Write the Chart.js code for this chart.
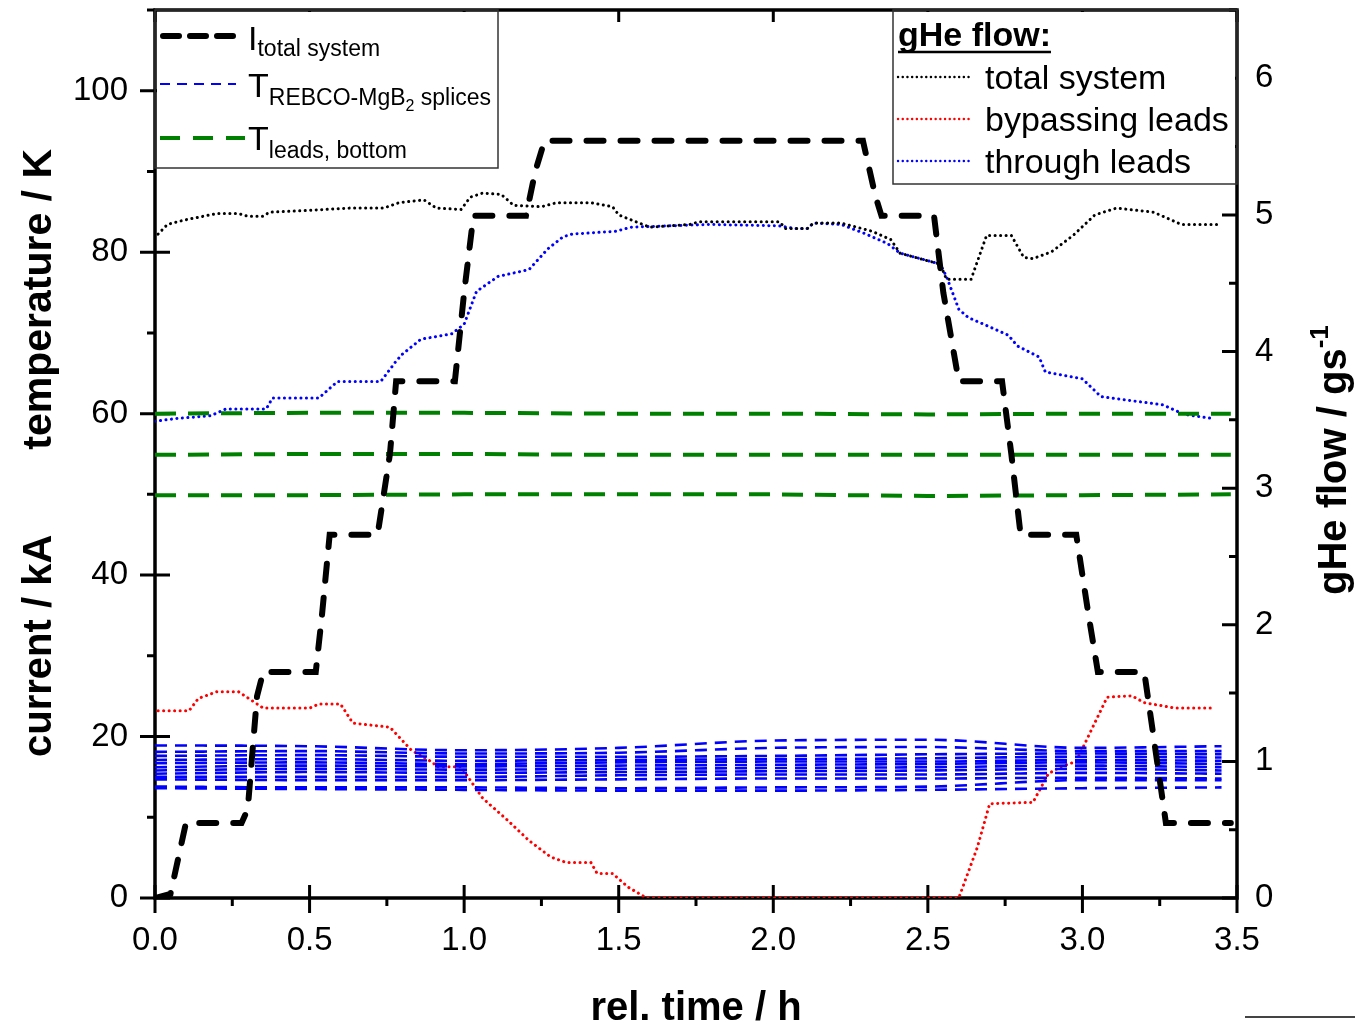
<!DOCTYPE html>
<html>
<head>
<meta charset="utf-8">
<script src="https://cdn.jsdelivr.net/npm/chart.js@4.4.1/dist/chart.umd.min.js"></script>
<style>
  html, body { margin: 0; padding: 0; background: #fff; }
  #wrap { width: 1355px; height: 1022px; }
</style>
</head>
<body>
<div id="wrap"><canvas id="chart" width="1355" height="1022"></canvas></div>
<script>
// ======================================
// Data
// ======================================

const xTicks = [0, 0.5, 1.0, 1.5, 2.0, 2.5, 3.0, 3.5];
const leftTicks = [0, 20, 40, 60, 80, 100];
const rightTicks = [0, 1, 2, 3, 4, 5, 6];

// total current, kA
const currentTime = [0, 0.05, 0.07, 0.1, 0.28, 0.3, 0.33, 0.35, 0.52, 0.54, 0.565, 0.72, 0.76, 0.78, 0.97, 1.0, 1.03, 1.2, 1.23, 1.26, 2.29, 2.33, 2.35, 2.52, 2.55, 2.6, 2.74, 2.77, 2.8, 2.98, 3.02, 3.05, 3.2, 3.23, 3.27, 3.48];
const currentKA = [0, 0.5, 4, 9.3, 9.3, 11, 25, 28, 28, 35, 45, 45, 55, 64, 64, 75, 84.5, 84.5, 90, 93.8, 93.8, 87, 84.5, 84.5, 75, 64, 64, 55, 45, 45, 35, 28, 28, 20, 9.3, 9.3];

// splice temperatures, K
const spliceTime = [0, 0.5, 1.0, 1.5, 2.0, 2.5, 3.0, 3.45];
const spliceTemps = [
  [18.9, 18.8, 18.3, 18.6, 19.5, 19.6, 18.6, 18.8],
  [18.1, 18.2, 17.9, 18.0, 18.6, 18.7, 18.2, 18.2],
  [17.6, 17.7, 17.5, 17.5, 17.6, 17.8, 17.9, 17.8],
  [17.1, 17.2, 17.0, 17.1, 17.2, 17.3, 17.5, 17.4],
  [16.7, 16.8, 16.6, 16.8, 16.9, 16.9, 17.1, 17.0],
  [16.2, 16.4, 16.3, 16.4, 16.5, 16.6, 16.8, 16.6],
  [15.8, 16.0, 15.9, 16.0, 16.1, 16.2, 16.4, 16.2],
  [15.4, 15.6, 15.5, 15.6, 15.7, 15.8, 16.0, 15.8],
  [15.0, 15.0, 15.0, 15.2, 15.3, 15.3, 15.5, 15.4],
  [14.7, 14.6, 14.6, 14.7, 14.8, 14.8, 14.9, 14.8],
  [13.8, 13.7, 13.7, 13.6, 13.7, 13.8, 14.6, 14.6],
  [13.6, 13.5, 13.4, 13.3, 13.3, 13.4, 13.6, 13.7],
];

// lead bottom temperatures, K
const leadsTime = [0, 0.5, 1.0, 1.5, 2.0, 2.5, 3.0, 3.48];
const leadsA = [60.0, 60.1, 60.1, 60.0, 60.0, 59.9, 60.0, 60.0];
const leadsB = [54.9, 55.0, 55.0, 54.9, 54.9, 54.9, 54.9, 54.9];
const leadsC = [49.9, 49.9, 50.0, 50.0, 50.0, 49.8, 49.9, 50.0];

// gHe flow, g/s
const flowTotalTime = [0.01, 0.04, 0.09, 0.2, 0.27, 0.3, 0.35, 0.37, 0.47, 0.63, 0.74, 0.79, 0.87, 0.91, 0.99, 1.02, 1.06, 1.12, 1.16, 1.25, 1.3, 1.41, 1.48, 1.5, 1.6, 1.73, 1.76, 2.02, 2.04, 2.11, 2.13, 2.22, 2.32, 2.38, 2.41, 2.49, 2.54, 2.56, 2.64, 2.69, 2.77, 2.81, 2.84, 2.9, 2.97, 3.04, 3.11, 3.23, 3.32, 3.45];
const flowTotal = [4.86, 4.93, 4.96, 5.01, 5.01, 4.99, 4.99, 5.02, 5.03, 5.05, 5.05, 5.09, 5.11, 5.05, 5.04, 5.13, 5.16, 5.15, 5.07, 5.06, 5.09, 5.09, 5.06, 5.0, 4.91, 4.93, 4.95, 4.95, 4.9, 4.9, 4.94, 4.94, 4.88, 4.82, 4.72, 4.67, 4.64, 4.53, 4.53, 4.85, 4.85, 4.69, 4.68, 4.73, 4.85, 5.0, 5.05, 5.02, 4.93, 4.93];

const flowBypassTime = [0.01, 0.11, 0.14, 0.2, 0.27, 0.35, 0.5, 0.53, 0.6, 0.64, 0.76, 0.83, 0.9, 0.91, 0.99, 1.06, 1.14, 1.21, 1.28, 1.33, 1.41, 1.43, 1.48, 1.53, 1.59, 2.6, 2.66, 2.7, 2.84, 2.89, 2.93, 2.98, 3.08, 3.16, 3.2, 3.3, 3.42];
const flowBypass = [1.37, 1.37, 1.46, 1.51, 1.51, 1.39, 1.39, 1.42, 1.42, 1.28, 1.25, 1.08, 0.99, 0.96, 0.96, 0.73, 0.57, 0.42, 0.3, 0.26, 0.26, 0.18, 0.18, 0.08, 0, 0, 0.37, 0.69, 0.7, 0.91, 0.96, 1.0, 1.47, 1.48, 1.43, 1.39, 1.39];

const flowThroughTime = [0.0, 0.07, 0.18, 0.23, 0.36, 0.38, 0.53, 0.59, 0.73, 0.78, 0.8, 0.86, 0.96, 1.0, 1.04, 1.11, 1.21, 1.27, 1.32, 1.35, 1.49, 1.54, 1.79, 2.02, 2.07, 2.11, 2.13, 2.22, 2.3, 2.37, 2.41, 2.54, 2.56, 2.6, 2.63, 2.76, 2.79, 2.86, 2.88, 3.0, 3.06, 3.26, 3.33, 3.42];
const flowThrough = [3.49, 3.51, 3.53, 3.58, 3.58, 3.66, 3.66, 3.78, 3.78, 3.93, 3.98, 4.09, 4.13, 4.2, 4.44, 4.55, 4.6, 4.75, 4.84, 4.86, 4.88, 4.91, 4.93, 4.92, 4.9, 4.9, 4.94, 4.93, 4.86, 4.79, 4.72, 4.64, 4.55, 4.31, 4.25, 4.12, 4.04, 3.96, 3.85, 3.8, 3.67, 3.61, 3.54, 3.51];

// ======================================
// Helpers
// ======================================

const FONT = "'Liberation Sans', Arial, sans-serif";
const BLUE = "#0000ff";
const RED = "#ff0000";
const GREEN = "#008000";

function points(times, values) {
  return times.map((t, i) => ({ x: t, y: values[i] }));
}

function dottedLine(label, data, color) {
  return {
    label, data, yAxisID: "y2",
    borderColor: color, borderWidth: 3,
    borderDash: [0.1, 5.4], borderCapStyle: "round",
    pointRadius: 0, tension: 0,
  };
}

// rich text: parts drawn one after another, each with its own baseline shift
function drawParts(ctx, x, y, parts) {
  let cx = x;
  parts.forEach((p) => {
    ctx.font = `${p.bold ? "bold " : ""}${p.size}px ${FONT}`;
    ctx.fillText(p.text, cx, y + (p.dy || 0));
    cx += ctx.measureText(p.text).width;
  });
  return cx;
}

function sampleLine(ctx, x1, x2, y, color, width, dash, cap) {
  ctx.save();
  ctx.strokeStyle = color;
  ctx.lineWidth = width;
  ctx.setLineDash(dash);
  ctx.lineCap = cap || "butt";
  ctx.beginPath();
  ctx.moveTo(x1, y);
  ctx.lineTo(x2, y);
  ctx.stroke();
  ctx.restore();
}

function noPad(s) {
  s.paddingTop = 0;
  s.paddingBottom = 0;
  s.paddingLeft = 0;
  s.paddingRight = 0;
}

// ======================================
// Frame and ticks (under the data)
// ======================================

const framePlugin = {
  id: "frame",
  beforeDatasetsDraw(chart) {
    const { ctx, chartArea: a, scales } = chart;
    const x = scales.x, y = scales.y, y2 = scales.y2;
    ctx.save();
    ctx.strokeStyle = "#000";
    ctx.lineCap = "butt";

    ctx.lineWidth = 3;
    ctx.beginPath();
    for (let v = 0; v <= 3.5001; v += 0.25) {
      const px = x.getPixelForValue(v);
      const major = Math.abs(v * 2 - Math.round(v * 2)) < 1e-6;
      if (major) {
        ctx.moveTo(px, a.bottom - 13); ctx.lineTo(px, a.bottom + 15);
        ctx.moveTo(px, a.top); ctx.lineTo(px, a.top + 12);
      } else {
        ctx.moveTo(px, a.bottom); ctx.lineTo(px, a.bottom + 8);
      }
    }
    for (let v = 0; v <= 110; v += 10) {
      const py = y.getPixelForValue(v);
      if (v % 20 === 0) { ctx.moveTo(a.left - 15, py); ctx.lineTo(a.left + 15, py); }
      else { ctx.moveTo(a.left - 8, py); ctx.lineTo(a.left, py); }
    }
    for (let v = 0; v <= 6.5; v += 0.5) {
      const py = y2.getPixelForValue(v);
      const len = Number.isInteger(v) ? 15 : 8;
      ctx.moveTo(a.right - len, py); ctx.lineTo(a.right, py);
    }
    ctx.stroke();

    ctx.lineWidth = 3.5;
    ctx.strokeRect(a.left, a.top, a.right - a.left, a.bottom - a.top);
    ctx.restore();
  },
};

// ======================================
// Titles and legends (over the data)
// ======================================

const decorPlugin = {
  id: "decor",
  afterDatasetsDraw(chart) {
    const { ctx, chartArea: a } = chart;
    ctx.save();
    ctx.fillStyle = "#000";

    // axis titles
    ctx.textBaseline = "alphabetic";
    ctx.font = `bold 40px ${FONT}`;
    ctx.textAlign = "center";
    ctx.fillText("rel. time / h", 696, 1020);

    ctx.save();
    ctx.translate(51, 757);
    ctx.rotate(-Math.PI / 2);
    ctx.textAlign = "left";
    ctx.font = `bold 40px ${FONT}`;
    ctx.fillText("current / kA", 0, 0);
    ctx.restore();

    ctx.save();
    ctx.translate(51, 149);
    ctx.rotate(-Math.PI / 2);
    ctx.textAlign = "right";
    ctx.font = `bold 41px ${FONT}`;
    ctx.fillText("temperature / K", 0, 0);
    ctx.restore();

    ctx.save();
    ctx.translate(1346, 595);
    ctx.rotate(-Math.PI / 2);
    ctx.textAlign = "left";
    drawParts(ctx, 0, 0, [
      { text: "gHe flow / gs", size: 40, bold: true },
      { text: "-1", size: 26, bold: true, dy: -18 },
    ]);
    ctx.restore();

    // left legend
    ctx.textAlign = "left";
    ctx.fillStyle = "#fff";
    ctx.fillRect(a.left + 2, a.top + 2, 498 - a.left - 2, 168 - a.top - 2);
    ctx.strokeStyle = "#333";
    ctx.lineWidth = 1.5;
    ctx.strokeRect(a.left, a.top, 498 - a.left, 168 - a.top);
    ctx.fillStyle = "#000";

    sampleLine(ctx, 163, 243, 36, "#000", 6, [16, 11], "round");
    drawParts(ctx, 248, 50, [
      { text: "I", size: 34 },
      { text: "total system", size: 23, dy: 6 },
    ]);
    sampleLine(ctx, 160, 236, 84, BLUE, 2, [10, 7]);
    drawParts(ctx, 248, 97, [
      { text: "T", size: 34 },
      { text: "REBCO-MgB", size: 23, dy: 8 },
      { text: "2", size: 16, dy: 14 },
      { text: " splices", size: 23, dy: 8 },
    ]);
    sampleLine(ctx, 160, 245, 138, GREEN, 4, [20, 13]);
    drawParts(ctx, 248, 150, [
      { text: "T", size: 34 },
      { text: "leads, bottom", size: 23, dy: 8 },
    ]);

    // right legend
    ctx.fillStyle = "#fff";
    ctx.fillRect(893, a.top + 2, a.right - 893 - 2, 184 - a.top - 2);
    ctx.strokeStyle = "#333";
    ctx.lineWidth = 1.5;
    ctx.strokeRect(893, a.top, a.right - 893, 184 - a.top);
    ctx.fillStyle = "#000";
    const endX = drawParts(ctx, 898, 46, [{ text: "gHe flow:", size: 34, bold: true }]);
    ctx.strokeStyle = "#000";
    ctx.lineWidth = 2.5;
    ctx.beginPath();
    ctx.moveTo(898, 52); ctx.lineTo(endX, 52);
    ctx.stroke();

    const rows = [
      { label: "total system", color: "#000", yc: 77 },
      { label: "bypassing leads", color: RED, yc: 119 },
      { label: "through leads", color: BLUE, yc: 161 },
    ];
    rows.forEach((r) => {
      sampleLine(ctx, 898, 972, r.yc, r.color, 2.4, [0.1, 4.6], "round");
      ctx.fillStyle = "#000";
      drawParts(ctx, 985, r.yc + 12, [{ text: r.label, size: 34 }]);
    });

    // stray rule at the bottom right of the picture
    ctx.strokeStyle = "#444";
    ctx.lineWidth = 2;
    ctx.beginPath();
    ctx.moveTo(1245, 1017); ctx.lineTo(1355, 1017);
    ctx.stroke();

    ctx.restore();
  },
};

// ======================================
// Chart
// ======================================

const datasets = [
  {
    label: "I total system",
    data: points(currentTime, currentKA),
    yAxisID: "y",
    borderColor: "#000", borderWidth: 6,
    borderDash: [17, 17], borderCapStyle: "round",
    pointRadius: 0, tension: 0,
  },
];

[leadsA, leadsB, leadsC].forEach((vals, i) => {
  datasets.push({
    label: "T leads, bottom " + (i + 1),
    data: points(leadsTime, vals),
    yAxisID: "y",
    borderColor: GREEN, borderWidth: 4,
    borderDash: [21, 12],
    pointRadius: 0, tension: 0,
  });
});

spliceTemps.forEach((vals, i) => {
  datasets.push({
    label: "T splice " + (i + 1),
    data: points(spliceTime, vals),
    yAxisID: "y",
    borderColor: BLUE, borderWidth: 2.6,
    borderDash: [12, 8],
    pointRadius: 0, cubicInterpolationMode: "monotone",
  });
});

datasets.push(dottedLine("total system", points(flowTotalTime, flowTotal), "#000"));
datasets.push(dottedLine("bypassing leads", points(flowBypassTime, flowBypass), RED));
datasets.push(dottedLine("through leads", points(flowThroughTime, flowThrough), BLUE));

const tickFont = { family: FONT, size: 33 };

new Chart(document.getElementById("chart"), {
  type: "line",
  data: { datasets },
  options: {
    responsive: false,
    animation: false,
    layout: { padding: { top: 10, left: 0, right: 0, bottom: 0 } },
    plugins: { legend: { display: false }, tooltip: { enabled: false } },
    scales: {
      x: {
        type: "linear", position: "bottom", min: 0, max: 3.5,
        afterBuildTicks: (s) => { s.ticks = xTicks.map((v) => ({ value: v })); },
        afterFit: (s) => { s.height = 124; noPad(s); },
        ticks: { font: tickFont, color: "#000", padding: 23, maxRotation: 0, callback: (v) => v.toFixed(1) },
        grid: { display: false, drawTicks: false },
        border: { display: false },
      },
      y: {
        type: "linear", position: "left", min: 0, max: 110,
        afterBuildTicks: (s) => { s.ticks = leftTicks.map((v) => ({ value: v })); },
        afterFit: (s) => { s.width = 155; noPad(s); },
        ticks: { font: tickFont, color: "#000", padding: 27 },
        grid: { display: false, drawTicks: false },
        border: { display: false },
      },
      y2: {
        type: "linear", position: "right", min: 0, max: 6.5,
        afterBuildTicks: (s) => { s.ticks = rightTicks.map((v) => ({ value: v })); },
        afterFit: (s) => { s.width = 118; noPad(s); },
        ticks: { font: tickFont, color: "#000", padding: 18 },
        grid: { display: false, drawTicks: false },
        border: { display: false },
      },
    },
  },
  plugins: [framePlugin, decorPlugin],
});
</script>
</body>
</html>
